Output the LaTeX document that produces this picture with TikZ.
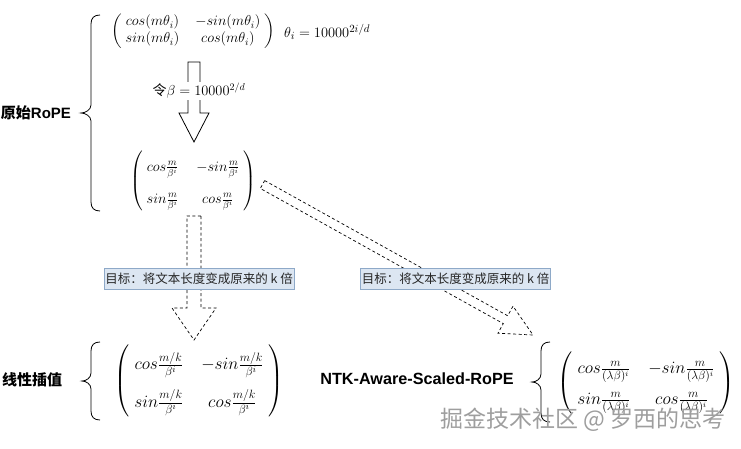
\documentclass[tikz,border=0pt]{standalone}
\usepackage{amsmath}
\usepackage{fontspec}
\newfontfamily\cjk{Noto Sans CJK SC}
\newfontfamily\arialf{Liberation Sans}
\usetikzlibrary{calc}
\definecolor{boxfill}{HTML}{DCE6F2}
\definecolor{boxedge}{HTML}{8EA9C8}
\newcommand{\mybrace}[6]{%
  \draw[bracestyle] (#1,#4) .. controls ({#2+3},#4) and (#2,{#4+3}) .. (#2,{#4+9})
    -- (#2,{#5-8}) .. controls (#2,{#5-3}) and ({#3+4},#5) .. (#3,#5)
    .. controls ({#3+4},#5) and (#2,{#5+3}) .. (#2,{#5+8})
    -- (#2,{#6-9}) .. controls (#2,{#6-3}) and ({#2+3},#6) .. (#1,#6);}
\newcommand{\blockarrow}[6]{%
  \coordinate (ba-b) at ($(#3)!#6!(#2)$);
  \draw[#1] ($(#2)!#4!90:(#3)$) -- ($(ba-b)!#4!-90:(#2)$) -- ($(ba-b)!#5!-90:(#2)$)
    -- (#3) -- ($(ba-b)!#5!90:(#2)$) -- ($(ba-b)!#4!90:(#2)$) -- ($(#2)!#4!-90:(#3)$) -- cycle;}
% matrix with padding: #1 col sep, #2 stretch, #3 body
\newcommand{\pmat}[3]{\setlength{\arraycolsep}{#1}\renewcommand\arraystretch{#2}%
  $\left(\;\begin{matrix}#3\end{matrix}\;\right)$}
\tikzset{
  mat/.style={inner sep=0pt, font=\fontsize{14}{17}\selectfont},
  lbl/.style={inner sep=0pt, font=\bfseries\fontsize{15}{18}\selectfont},
  goal/.style={draw=boxedge, fill=boxfill, line width=0.8pt, minimum width=190pt,
    minimum height=21pt, inner sep=0pt, font=\cjk\fontsize{12.5}{14}\selectfont, text=black!85},
  hollow/.style={draw=black, line width=0.8pt, fill=white},
  hollowdash/.style={draw=black, line width=0.7pt, dash pattern=on 3pt off 2.5pt, fill=white},
  bracestyle/.style={draw=black, line width=0.8pt},
}
\begin{document}
\begin{tikzpicture}[x=1pt,y=-1pt]
\useasboundingbox (0,0) rectangle (741,448);
% original RoPE
\node[lbl] (rope) at (36,113) {{\cjk 原始}{\arialf RoPE}};
\mybrace{100}{91}{81}{15}{113}{211}
\node[mat] (m1) at (193,31) {\pmat{8pt}{1}{cos(m\theta_i) & -sin(m\theta_i)\\ sin(m\theta_i) & cos(m\theta_i)}};
\node[mat, anchor=west, font=\fontsize{15.3}{18}\selectfont] (theta) at (284,32) {$\theta_i = 10000^{2i/d}$};
\coordinate (a1s) at (194,62);
\coordinate (a1e) at (194,142);
\blockarrow{hollow}{a1s}{a1e}{6pt}{15pt}{29pt}
\node[mat, fill=white, inner sep=1pt] (beta) at (199,91) {{\cjk 令}$\beta = 10000^{2/d}$};
\node[mat] (m2) at (193,181) {\pmat{9pt}{1.9}{cos\frac{m}{\beta^i} & -sin\frac{m}{\beta^i}\\ sin\frac{m}{\beta^i} & cos\frac{m}{\beta^i}}};
% arrows
\coordinate (a2s) at (194,216);
\coordinate (a2e) at (194,340);
\blockarrow{hollowdash}{a2s}{a2e}{7pt}{22pt}{32pt}
\coordinate (a3s) at (262.5,184.5);
\coordinate (a3e) at (533,335);
\blockarrow{hollowdash}{a3s}{a3e}{4.5pt}{15.5pt}{31.5pt}
\node[goal] (g1) at (199,278.5) {目标：将文本长度变成原来的 k 倍};
\node[goal] (g2) at (455.5,278.5) {目标：将文本长度变成原来的 k 倍};
% linear interpolation
\node[lbl] (lin) at (32,380) {\cjk 线性插值};
\mybrace{100}{91}{82}{342}{381}{420}
\node[mat, font=\fontsize{18}{22}\selectfont] (m3) at (199,381) {\pmat{9pt}{1.7}{cos\frac{m/k}{\beta^i} & -sin\frac{m/k}{\beta^i}\\ sin\frac{m/k}{\beta^i} & cos\frac{m/k}{\beta^i}}};
% NTK
\node[lbl, font=\bfseries\fontsize{16.2}{19}\selectfont] (ntk) at (417,379) {\arialf NTK-Aware-Scaled-RoPE};
\mybrace{550}{541}{532}{342}{382}{422}
\node[mat, font=\fontsize{17}{20}\selectfont] (m4) at (646,383) {\pmat{9pt}{1.55}{cos\frac{m}{(\lambda\beta)^i} & -sin\frac{m}{(\lambda\beta)^i}\\ sin\frac{m}{(\lambda\beta)^i} & cos\frac{m}{(\lambda\beta)^i}}};
\node[inner sep=0pt, font=\cjk\fontsize{23}{25}\selectfont, text=black!38] (wm) at (583,420) {掘金技术社区 @ 罗西的思考};
\end{tikzpicture}
\end{document}
